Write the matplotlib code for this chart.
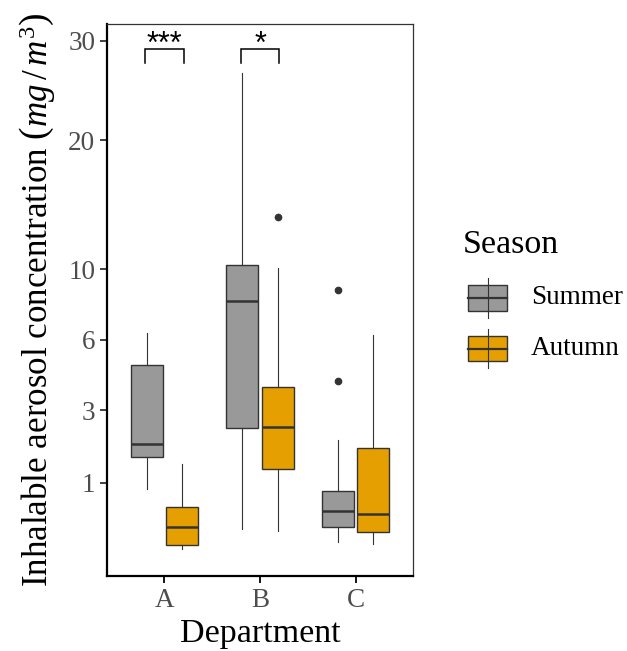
import numpy as np
import matplotlib
matplotlib.use("Agg")
import matplotlib.pyplot as plt
from matplotlib.patches import Rectangle

# ---- data ----
departments = ["A", "B", "C"]
seasons = ["Summer", "Autumn"]
season_colors = ["#999999", "#E69F00"]
# [whislo, q1, median, q3, whishi]
summer_stats = [
    [0.876, 1.60, 1.94, 4.81, 6.35],
    [0.279, 2.41, 8.09, 10.26, 26.56],
    [0.157, 0.304, 0.509, 0.845, 2.06],
]
autumn_stats = [
    [0.106, 0.136, 0.300, 0.564, 1.415],
    [0.264, 1.297, 2.46, 3.87, 10.06],
    [0.144, 0.247, 0.466, 1.835, 6.25],
]
summer_outliers = [[], [], [8.73, 4.13]]
autumn_outliers = [[], [13.63], []]
yticks = [1, 3, 6, 10, 20, 30]
sig_pairs = [("A", "***"), ("B", "*")]
sig_y = 29.1
sig_tip = 27.6

plt.rcParams["font.family"] = ["Liberation Serif", "DejaVu Serif"]
plt.rcParams["mathtext.fontset"] = "custom"
plt.rcParams["mathtext.rm"] = "Liberation Serif"
plt.rcParams["mathtext.it"] = "Liberation Serif:italic"

fig = plt.figure(figsize=(6.27, 6.51), dpi=100)
ax = fig.add_axes([0.1707, 0.1152, 0.488, 0.8479])

ax.set_yscale("function", functions=(lambda v: np.sqrt(np.clip(v, 0, None)), lambda v: np.square(v)))

offset = 0.185
width = 0.335
edge = "#333333"


def make_stats(stats, outs):
    res = []
    for s, o in zip(stats, outs):
        res.append(dict(whislo=s[0], q1=s[1], med=s[2], q3=s[3], whishi=s[4], fliers=o))
    return res

for k, (stats, outs, col) in enumerate([(summer_stats, summer_outliers, season_colors[0]),
                                       (autumn_stats, autumn_outliers, season_colors[1])]):
    pos = np.arange(1, len(departments) + 1) + (-offset if k == 0 else offset)
    ax.bxp(make_stats(stats, outs), positions=pos, widths=width, patch_artist=True,
           showcaps=False,
           boxprops=dict(facecolor=col, edgecolor=edge, linewidth=1.0),
           medianprops=dict(color=edge, linewidth=1.8),
           whiskerprops=dict(color=edge, linewidth=0.8),
           flierprops=dict(marker="o", markerfacecolor=edge, markeredgecolor=edge, markersize=4.5),
           manage_ticks=False)

# significance brackets
br = 0.2
for dep, label in sig_pairs:
    i = departments.index(dep) + 1
    x0, x1 = i - br, i + br
    ax.plot([x0, x0, x1, x1], [sig_tip, sig_y, sig_y, sig_tip], color="black", lw=1.1,
            solid_joinstyle="miter")
    ax.annotate(label, xy=(i, sig_y), xytext=(0, -2.5), textcoords="offset points",
                ha="center", va="baseline", fontsize=22, family=["Liberation Sans"])

ax.set_xlim(0.4, 3.6)
ax.set_ylim(0.003, 31.9)
ax.set_xticks(np.arange(1, len(departments) + 1))
ax.set_xticklabels(departments)
ax.set_yticks(yticks)
ax.set_yticklabels([str(t) for t in yticks])
ax.minorticks_off()
ax.tick_params(axis="both", labelsize=19.5, labelcolor="#4D4D4D", length=5, width=1.3)
ax.tick_params(axis="y", color="#333333")
ax.tick_params(axis="x", color="black")

for side in ["left", "bottom"]:
    ax.spines[side].set_linewidth(1.6)
    ax.spines[side].set_color("black")
for side in ["top", "right"]:
    ax.spines[side].set_linewidth(0.9)
    ax.spines[side].set_color("#333333")

ax.set_xlabel("Department", fontsize=24.5, labelpad=4)
ax.set_ylabel(r"Inhalable aerosol concentration $\left(mg\,/\,m^{3}\right)$", fontsize=25.2,
              labelpad=7)

# legend (drawn manually)
fig.text(463 / 627, 1 - 245 / 651, "Season", fontsize=24.5, ha="left", va="center")
lax = fig.add_axes([0, 0, 1, 1], facecolor="none")
lax.set_xlim(0, 627)
lax.set_ylim(651, 0)
lax.axis("off")
key_x0, key_x1 = 468, 507
for name, col, (ytop, ybot) in zip(seasons, season_colors, [(285, 311), (336, 361)]):
    xm = (key_x0 + key_x1) / 2
    lax.plot([xm, xm], [ytop - 7, ybot + 7], color=edge, lw=0.8)
    lax.add_patch(Rectangle((key_x0, ytop), key_x1 - key_x0, ybot - ytop, facecolor=col,
                            edgecolor=edge, lw=1.0))
    lax.plot([key_x0, key_x1], [(ytop + ybot) / 2] * 2, color=edge, lw=1.6)
    lax.text(531, (ytop + ybot) / 2, name, fontsize=19.5, ha="left", va="center")

fig.savefig("out.png", dpi=100)
